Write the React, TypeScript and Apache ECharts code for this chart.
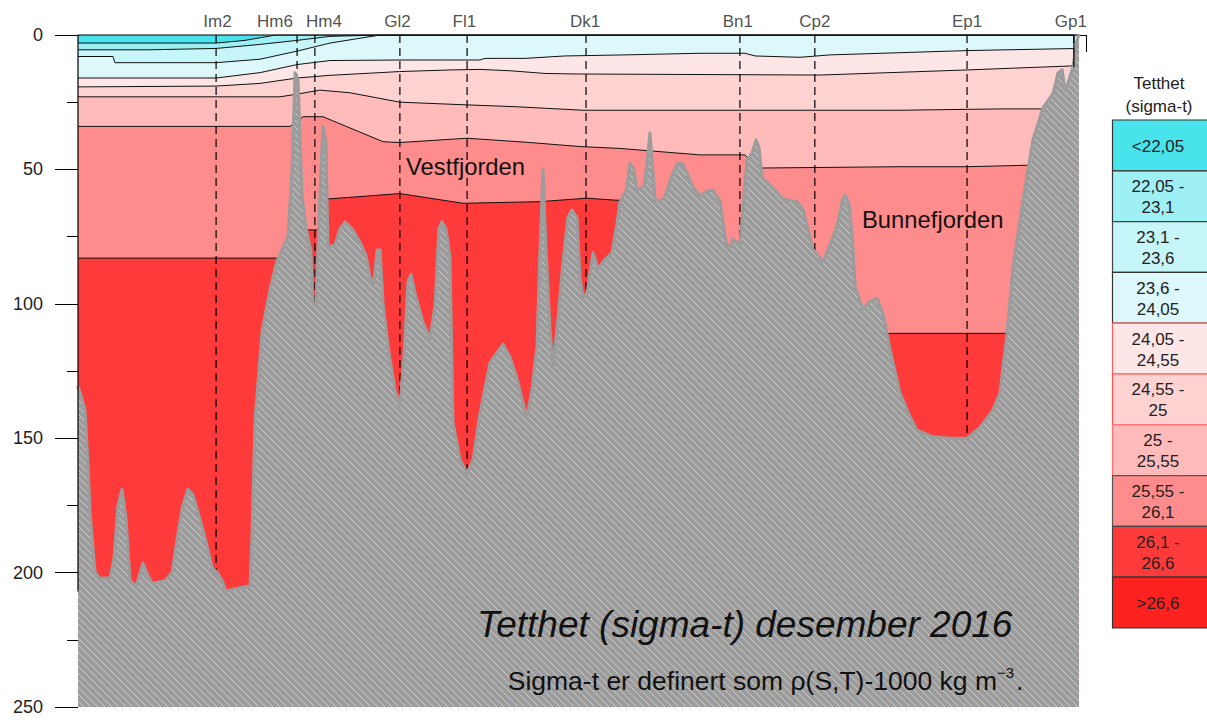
import { useEffect, useRef } from 'react';
import * as echarts from 'echarts';

const FONT = '"Liberation Sans", Arial, Helvetica, sans-serif';

// density classes (sigma-t), top to bottom
const classLabels = [
  '<22,05', '22,05 -\n23,1', '23,1 -\n23,6', '23,6 -\n24,05', '24,05 -\n24,55',
  '24,55 -\n25', '25 -\n25,55', '25,55 -\n26,1', '26,1 -\n26,6', '>26,6',
];
const classColors = [
  '#49e3ec', '#9ef0f5', '#c6f6f9', '#dcf8fa', '#ffe6e6',
  '#ffd2d2', '#ffbaba', '#ff8c8c', '#ff3a3a', '#ff2020',
];

// stations (distance km along section)
const stationNames = ['Im2', 'Hm6', 'Hm4', 'Gl2', 'Fl1', 'Dk1', 'Bn1', 'Cp2', 'Ep1', 'Gp1'];
const stationKm = [4.11, 6.52, 7.05, 9.58, 11.58, 15.12, 19.7, 21.93, 26.46, 29.64];
const stationBottom = [200, 15, 100, 138, 163, 97.5, 78, 80, 150, 12];
const stationLabelKm = [4.15, 5.86, 7.32, 9.51, 11.5, 15.09, 19.64, 21.93, 26.46, 29.55];

// bottom topography [km, depth m]
const bottomProfile: [number, number][] = [
  [0, 131], [0.06, 133], [0.21, 139.5], [0.3, 160], [0.36, 178], [0.51, 200], [0.65, 202], [0.95, 202],
  [1.07, 195], [1.19, 175], [1.31, 169], [1.43, 180], [1.55, 203], [1.73, 205], [1.85, 200], [1.93, 196.5],
  [2.05, 200], [2.2, 204], [2.59, 203], [2.8, 200], [2.92, 190], [3.1, 176], [3.27, 169], [3.42, 171],
  [3.63, 180], [3.84, 190], [3.99, 198], [4.14, 200], [4.29, 203], [4.4, 207], [4.67, 206], [5.12, 205],
  [5.18, 185], [5.27, 143], [5.48, 110], [5.71, 95], [5.92, 84], [6.1, 79], [6.25, 75], [6.37, 50],
  [6.46, 14], [6.55, 17], [6.67, 60], [6.79, 72], [6.93, 80], [6.99, 100], [7.08, 100], [7.14, 80],
  [7.23, 50], [7.29, 34], [7.38, 40], [7.44, 79], [7.65, 78], [7.8, 72], [7.95, 69.5], [8.15, 72],
  [8.39, 77], [8.57, 82], [8.69, 90], [8.81, 92], [8.9, 80], [8.99, 80], [9.08, 100], [9.23, 116],
  [9.43, 132], [9.58, 138], [9.7, 120], [9.82, 92], [9.91, 89], [10.03, 96], [10.27, 107], [10.48, 113],
  [10.63, 100], [10.74, 72], [10.83, 69.5], [10.95, 72], [11.07, 82.5], [11.16, 144], [11.37, 158], [11.58, 163],
  [11.76, 158], [11.96, 141], [12.26, 122], [12.65, 115], [12.86, 120], [13.07, 128], [13.36, 142.5], [13.51, 132],
  [13.66, 116], [13.75, 80], [13.84, 50], [13.93, 80], [14.05, 110], [14.14, 123.5], [14.29, 105], [14.43, 85],
  [14.58, 68], [14.7, 65], [14.85, 68], [14.94, 90], [15.03, 97.5], [15.15, 96], [15.33, 81], [15.48, 87],
  [15.65, 84], [15.89, 81], [16.04, 70], [16.13, 62], [16.31, 58], [16.43, 47.7], [16.55, 50], [16.64, 58],
  [16.85, 56], [16.96, 45], [17.02, 36.5], [17.08, 45], [17.17, 61], [17.32, 62], [17.47, 60], [17.68, 52],
  [17.83, 48], [17.98, 47.7], [18.15, 52], [18.3, 56.5], [18.51, 60], [18.72, 58], [18.9, 57.7], [19.11, 62],
  [19.26, 75], [19.35, 80], [19.49, 76], [19.7, 78], [19.82, 60], [19.91, 46.5], [20.06, 44], [20.18, 39],
  [20.27, 42], [20.36, 53], [20.65, 56.5], [20.98, 61], [21.4, 62], [21.58, 65], [21.88, 80], [22.02, 82],
  [22.17, 84.4], [22.38, 78], [22.59, 71], [22.74, 62], [22.83, 59.5], [22.95, 63], [23.04, 74], [23.13, 93.5],
  [23.36, 102], [23.57, 99], [23.78, 98], [23.96, 103.5], [24.17, 117], [24.46, 133], [24.76, 142], [24.97, 147],
  [25.45, 149.5], [25.95, 150], [26.46, 150], [26.85, 146], [27.23, 139.5], [27.44, 133], [27.53, 123.5], [27.65, 111],
  [27.83, 86], [28.13, 61], [28.42, 39], [28.72, 27], [29.02, 21.7], [29.17, 14], [29.29, 13], [29.38, 20.5],
  [29.46, 18], [29.61, 12], [29.73, 2], [29.79, 0],
];
const sectionEnd = 29.79;

// isopycnal depths [km, depth m]
const iso2205: [number, number][] = [[0, 3], [4.11, 3], [4.97, 2], [5.71, 0.4], [5.86, 0], [29.79, 0]];
const iso231: [number, number][] = [[0, 5.5], [2.14, 5.5], [4.11, 5], [5.42, 3.5], [6.52, 2], [7.5, 0.5], [8.99, 0], [29.79, 0]];
const iso236: [number, number][] = [[0, 8], [1.04, 8], [1.1, 10.3], [4.11, 10.3], [5.42, 9], [6.52, 6], [7.5, 3], [8.99, 0], [29.79, 0]];
const iso2405: [number, number][] = [
  [0, 16], [4.11, 16], [5.42, 14], [6.52, 11], [7.5, 9.5], [9.58, 9.3], [11.96, 9.3], [12.11, 8.7], [13.3, 8.7],
  [14.49, 7.8], [16.28, 7.4], [18.51, 6.8], [19.85, 6.8], [20.15, 7.8], [21.49, 8.3], [22.38, 7.4], [26.46, 5.8], [29.79, 5],
];
const iso2455: [number, number][] = [
  [0, 19.3], [4.11, 19], [5.42, 18], [6.52, 16], [7.5, 15], [9.58, 13.6], [11.07, 13], [11.96, 12.8], [12.86, 13.3],
  [13.9, 14.3], [14.79, 14.5], [22.08, 14.9], [26.46, 13], [29.79, 11.4],
];
const iso25: [number, number][] = [
  [0, 23], [6.01, 23], [6.52, 22], [7.2, 20.5], [8.1, 21.5], [9.58, 25], [11.58, 26], [13.07, 26.7], [15.03, 28],
  [24.46, 28], [27.44, 27.5], [29.79, 27.5],
];
const iso2555: [number, number][] = [
  [0, 34], [6.31, 34], [6.7, 30.4], [7.29, 30.4], [9.08, 39.7], [9.58, 40], [11.58, 38.4], [13.45, 40], [14.94, 41.5],
  [16.13, 42.2], [18.51, 44.6], [19.85, 44.6], [20.21, 49.5], [24.46, 49], [26.46, 49], [29.79, 48],
];
const iso261: [number, number][] = [
  [0, 83], [6.31, 83], [6.61, 72.5], [7.26, 72.5], [7.44, 61], [9.58, 59], [11.46, 62.6], [13.75, 62], [15.15, 60.7],
  [15.92, 61.4], [16.13, 61.5], [16.58, 64], [17.32, 80], [18.51, 100], [23.27, 111], [29.79, 111],
];
const isopycnals = [iso2205, iso231, iso236, iso2405, iso2455, iso25, iso2555, iso261];

function hatchPattern() {
  const size = 7;
  const c = document.createElement('canvas');
  c.width = size;
  c.height = size;
  const ctx = c.getContext('2d')!;
  ctx.fillStyle = '#9c9c9c';
  ctx.fillRect(0, 0, size, size);
  ctx.fillStyle = '#cacaca';
  for (let i = 0; i < size; i++) ctx.fillRect(i, i, 1, 1);
  return { image: c, repeat: 'repeat', imageWidth: size, imageHeight: size } as any;
}

export default function App() {
  const ref = useRef<HTMLDivElement>(null);
  useEffect(() => {
    if (!ref.current) return;
    const chart = echarts.init(ref.current, undefined, { renderer: 'svg' });
    const hatch = hatchPattern();

    const series: any[] = [];
    series.push({
      type: 'line', z: 1, data: [[0, 250], [sectionEnd, 250]], symbol: 'none', silent: true,
      lineStyle: { width: 0 }, areaStyle: { color: classColors[8], opacity: 1, origin: 'start' },
    });
    for (let k = isopycnals.length - 1; k >= 0; k--) {
      series.push({
        type: 'line', z: 2, data: isopycnals[k], symbol: 'none', silent: true,
        lineStyle: { color: '#111', width: 1 },
        areaStyle: { color: classColors[k], opacity: 1, origin: 'start' },
      });
    }
    stationKm.forEach((km, i) => {
      series.push({
        type: 'line', z: 3, data: [[km, 0], [km, stationBottom[i]]], symbol: 'none', silent: true,
        lineStyle: { color: '#000', width: 1.2, type: [8, 5] },
      });
    });
    series.push({
      type: 'line', z: 4, data: bottomProfile, symbol: 'none', silent: true,
      lineStyle: { color: '#9c9c9c', width: 3, cap: 'round', join: 'round' },
      areaStyle: { color: hatch, opacity: 1, origin: 'end' },
    });
    series.push({
      type: 'line', z: 5, data: [[0, 207], [0, 0], [29.64, 0], [29.64, 12]], symbol: 'none', silent: true, clip: false,
      lineStyle: { color: '#000', width: 1.2 },
    });
    series.push({
      type: 'scatter', z: 6, clip: false, symbolSize: 0, silent: true,
      data: stationLabelKm.map((km, i) => ({ value: [km, 0], name: stationNames[i] })),
      label: {
        show: true, position: 'top', distance: 5, formatter: '{b}',
        fontSize: 17, fontFamily: FONT, color: '#222',
      },
    });

    const graphic: any[] = [];
    const text = (t: string, x: number, y: number, size: number, opts: any = {}) => ({
      type: 'text', silent: true, z: 100,
      style: {
        text: t, x, y, fill: opts.fill || '#111',
        font: `${opts.italic ? 'italic ' : ''}${size}px ${FONT}`,
        align: opts.align || 'left', textAlign: opts.align || 'left',
        verticalAlign: 'middle', textVerticalAlign: 'middle',
        lineHeight: opts.lineHeight,
      },
    });
    graphic.push(text('Vestfjorden', 406, 166, 23.8));
    graphic.push(text('Bunnefjorden', 862, 219.5, 23.8));
    graphic.push(text('Tetthet (sigma-t) desember 2016', 477, 624, 37, { italic: true }));
    graphic.push(text('Sigma-t er definert som ρ(S,T)-1000 kg m', 997, 680.5, 26.5, { align: 'right' }));
    graphic.push(text('−3', 997, 672, 15));
    graphic.push(text('.', 1016, 680.5, 26.5));

    // legend
    graphic.push(text('Tetthet', 1159, 83, 17, { align: 'center', fill: '#222' }));
    graphic.push(text('(sigma-t)', 1159, 106, 17, { align: 'center', fill: '#222' }));
    const borders = ['#333', '#333', '#444', '#333', '#ff5a5a', '#ff5050', '#ff7070', '#555', '#444', '#333'];
    const top0 = 120;
    const h = 50.8;
    classLabels.forEach((lab, i) => {
      graphic.push({
        type: 'rect', silent: true, z: 90,
        shape: { x: 1112.5, y: top0 + i * h, width: 110, height: h },
        style: { fill: classColors[i], stroke: borders[i], lineWidth: 1.2 },
      });
      graphic.push(text(lab, 1158, top0 + i * h + h / 2 + 1, 17, { align: 'center', fill: '#222', lineHeight: 21 }));
    });

    chart.setOption({
      animation: false,
      grid: { left: 78, right: 121, top: 35, bottom: 17, containLabel: false },
      xAxis: {
        type: 'value', min: 0, max: 30, interval: 10,
        axisLabel: { show: false },
        axisTick: { show: true, length: 17, lineStyle: { color: '#000', width: 1 } },
        axisLine: { show: true, lineStyle: { color: '#000', width: 1 } },
        splitLine: { show: false },
      },
      yAxis: {
        type: 'value', inverse: true, min: 0, max: 250, interval: 50,
        axisLine: { show: false },
        axisTick: { show: true, length: 23, lineStyle: { color: '#000', width: 1 } },
        minorTick: { show: true, splitNumber: 2, length: 11, lineStyle: { color: '#000', width: 1 } },
        axisLabel: { fontSize: 18, color: '#222', margin: 35, fontFamily: FONT },
        splitLine: { show: false },
        minorSplitLine: { show: false },
      },
      series,
      graphic,
    });
    return () => chart.dispose();
  }, []);
  return <div ref={ref} style={{ position: 'fixed', left: 0, top: 0, width: 1207, height: 724, background: '#fff' }} />;
}
